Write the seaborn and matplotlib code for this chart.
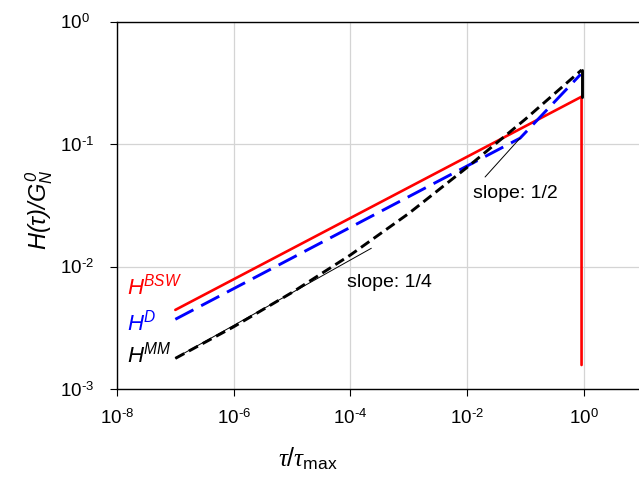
import matplotlib
matplotlib.use("Agg")
import matplotlib.pyplot as plt
import seaborn as sns
import numpy as np

# values (log-log)
x_bsw = [1e-7, 0.92, 0.92]
y_bsw = [4.45e-3, 0.244, 1.58e-3]

x_d = [1e-7, 0.0813, 0.89]
y_d = [3.73e-3, 0.112, 0.372]

x_mm = [1e-7, 1e-6, 1e-5, 1e-4, 1e-3, 1e-2, 1e-1, 0.92]
y_mm = [1.79e-3, 3.24e-3, 6.17e-3, 0.01247, 0.0272, 0.0646, 0.160, 0.403]
x_mm_end = [0.92, 0.92]
y_mm_end = [0.403, 0.244]

# thin guide lines
x_s14 = [1e-7, 2.29e-4]
y_s14 = [1.80e-3, 0.01416]
x_s12 = [0.0204, 0.0813]
y_s12 = [0.054, 0.112]

xticks = [1e-8, 1e-6, 1e-4, 1e-2, 1e0]
xtick_labels = [r"$10^{\text{-}8}$", r"$10^{\text{-}6}$", r"$10^{\text{-}4}$",
                r"$10^{\text{-}2}$", r"$10^{0}$"]
yticks = [1e-3, 1e-2, 1e-1, 1e0]
ytick_labels = [r"$10^{\text{-}3}$", r"$10^{\text{-}2}$", r"$10^{\text{-}1}$", r"$10^{0}$"]

sns.set_theme(style="ticks")
plt.rcParams["font.family"] = ["Liberation Sans", "DejaVu Sans"]
plt.rcParams["mathtext.fontset"] = "custom"
plt.rcParams["mathtext.rm"] = "Liberation Sans"
plt.rcParams["mathtext.it"] = "Liberation Serif:italic"
plt.rcParams["mathtext.sf"] = "Liberation Sans:italic"
plt.rcParams["text.color"] = "black"
plt.rcParams["axes.labelcolor"] = "black"
plt.rcParams["xtick.color"] = "black"
plt.rcParams["ytick.color"] = "black"

fig = plt.figure(figsize=(6.39, 4.79), dpi=100)
ax = fig.add_axes([0.1831, 0.1871, 0.8216, 0.7678])
ax.set_xscale("log")
ax.set_yscale("log")

ax.grid(True, which="major", color="#d4d4d4", linewidth=0.9)
ax.set_axisbelow(True)

kw = dict(ax=ax, estimator=None, sort=False, legend=False)
sns.lineplot(x=x_bsw, y=y_bsw, color="#ff0000", linewidth=1.9, **kw)
sns.lineplot(x=x_d, y=y_d, color="#0000ff", linewidth=2.1, linestyle=(0, (7, 3)), **kw)
sns.lineplot(x=x_mm, y=y_mm, color="black", linewidth=2.1, linestyle=(0, (3.5, 1.8)), **kw)
sns.lineplot(x=x_mm_end, y=y_mm_end, color="black", linewidth=2.1, **kw)
sns.lineplot(x=x_s14, y=y_s14, color="black", linewidth=0.7, **kw)
sns.lineplot(x=x_s12, y=y_s12, color="black", linewidth=0.7, **kw)

ax.text(10**-4.06, 10**-2.165, "slope: 1/4", fontsize=14, ha="left", va="baseline")
ax.text(10**-1.893, 10**-1.436, "slope: 1/2", fontsize=14, ha="left", va="baseline")

ax.text(10**-7.83, 10**-2.222, r"$\mathsf{H^{BSW}}$", color="#ff0000", fontsize=16, va="baseline")
ax.text(10**-7.83, 10**-2.516, r"$\mathsf{H^{D}}$", color="#0000ff", fontsize=16, va="baseline")
ax.text(10**-7.83, 10**-2.777, r"$\mathsf{H^{MM}}$", color="black", fontsize=16, va="baseline")

ax.set_xlim(1e-8, 1e1)
ax.set_ylim(1e-3, 1e0)
ax.set_xticks(xticks)
ax.set_xticklabels(xtick_labels)
ax.set_yticks(yticks)
ax.set_yticklabels(ytick_labels)
ax.minorticks_off()
ax.tick_params(axis="x", direction="out", length=5, width=0.8, color="black",
               labelsize=13.5, pad=9)
ax.tick_params(axis="y", direction="out", length=5, width=0.8, color="black",
               labelsize=13.5, pad=36)
for lbl in ax.get_yticklabels():
    lbl.set_horizontalalignment("left")

for sp in ax.spines.values():
    sp.set_color("black")
    sp.set_linewidth(1.0)

ax.set_xlabel(r"$\tau/\tau_{\mathrm{max}}$", fontsize=18)
ax.xaxis.set_label_coords(0.364, -0.152)
ax.set_ylabel(r"$\mathsf{H(\tau)/G_N^{\,0}}$", fontsize=17)
ax.yaxis.set_label_coords(-0.118, 0.49)

fig.savefig("out.png", dpi=100)
